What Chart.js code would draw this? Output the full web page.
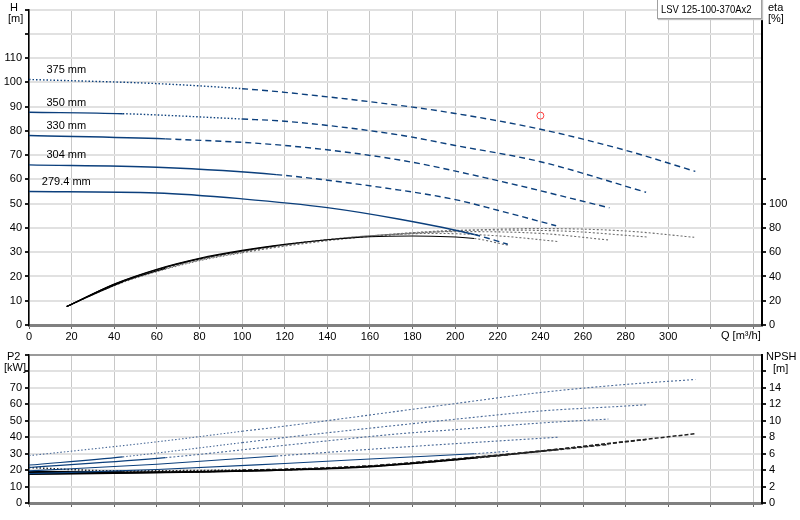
<!DOCTYPE html>
<html>
<head>
<meta charset="utf-8">
<script src="https://cdn.jsdelivr.net/npm/chart.js@4.4.1/dist/chart.umd.min.js"></script>
<style>
  body { margin: 0; background: #fff; font-family: "Liberation Sans", Arial, sans-serif; }
  #wrap { position: relative; width: 800px; height: 520px; overflow: hidden; }
  #wrap canvas { position: absolute; left: 0; }
  .lbl { position: absolute; font-size: 11px; line-height: 12px; color: #000; white-space: nowrap; }
  #tag { position: absolute; left: 657px; top: -1px; width: 105px; height: 20px; box-sizing: border-box;
         border: 1px solid #a0a0a0; box-shadow: 1px 1px 1px #c0c0c0; background: #fff; white-space: nowrap;
         font-size: 11px; line-height: 18px; padding-left: 3px; overflow: hidden; }
  #tag span { display: inline-block; transform: scaleX(0.86); transform-origin: left center; }
</style>
</head>
<body>
<div id="wrap">
  <canvas id="top" width="800" height="345" style="top:0"></canvas>
  <canvas id="bottom" width="800" height="175" style="top:345px"></canvas>
  <div class="lbl" style="left:10px;top:1px">H</div>
  <div class="lbl" style="left:8px;top:12px">[m]</div>
  <div class="lbl" style="left:768px;top:1px">eta</div>
  <div class="lbl" style="left:768px;top:12px">[%]</div>
  <div class="lbl" style="left:721px;top:329px">Q [m³/h]</div>
  <div class="lbl" style="left:7px;top:350px">P2</div>
  <div class="lbl" style="left:4px;top:361px">[kW]</div>
  <div class="lbl" style="left:766px;top:350px">NPSH</div>
  <div class="lbl" style="left:773px;top:362px">[m]</div>
  <div id="tag"><span>LSV 125-100-370Ax2</span></div>
</div>
<script>
// impeller diameters, smallest first
const diameters = ['279.4 mm', '304 mm', '330 mm', '350 mm', '375 mm'];

// head curves H [m] vs Q [m3/h]
const headQ = [
  [0, 60, 100, 140, 174, 209, 224.7],
  [0, 60, 116, 174, 200, 220, 247.4],
  [0, 64, 120, 174, 220, 272.4],
  [0, 44, 100, 120, 174, 200, 240, 289.6],
  [0, 60, 100, 120, 174, 200, 240, 280, 312.7]
];
const headH = [
  [55, 54.4, 52, 48.4, 43.6, 37.3, 33.3],
  [66, 65, 62, 55.6, 51.7, 47.3, 40.9],
  [78.1, 76.7, 74, 68, 59.5, 48.3],
  [87.7, 87.1, 84.9, 84, 78.3, 74, 67.3, 54.7],
  [101.2, 99.5, 97.4, 95.9, 90.5, 87.2, 80.7, 72, 63.3]
];

// efficiency eta [%]
const etaQ = [
  [17.7, 40, 60, 80, 100, 120, 140, 160, 180, 209, 224.7],
  [17.7, 40, 60, 80, 100, 116, 140, 160, 190, 220, 248.5],
  [17.7, 40, 64, 80, 100, 120, 140, 160, 200, 240, 272],
  [17.7, 44, 60, 80, 100, 120, 140, 160, 210, 250, 290.5],
  [17.7, 40, 60, 80, 100, 120, 140, 160, 240, 280, 312.2]
];
const etaVals = [
  [15.2, 33.8, 46, 55, 61.5, 66.5, 70.3, 72.8, 73.4, 71.3, 65.8],
  [15.2, 33.5, 45.5, 54.5, 61, 65.3, 70.5, 73.5, 75.5, 73.5, 68.8],
  [15.2, 33.2, 46.7, 54, 60.5, 66, 70.3, 73.5, 77, 75.5, 70.1],
  [15.2, 35.5, 44.5, 53.5, 60, 65.5, 70, 73.5, 78.3, 77.5, 72.5],
  [15.2, 32.5, 44, 53, 59.5, 65, 69.5, 73, 79.5, 77.5, 72.3]
];

// shaft power P2 [kW]
const powerQ = [
  [0, 60, 120, 174, 209, 224.7],
  [0, 60, 116, 174, 248.5],
  [0, 64, 120, 174, 200, 240, 271.9],
  [0, 44, 100, 120, 174, 200, 240, 280, 289.6],
  [0, 60, 100, 120, 174, 200, 240, 280, 312.7]
];
const powerVals = [
  [17.8, 20.3, 24, 27.6, 29.9, 31.3],
  [19.5, 23.5, 28.5, 33.8, 39.9],
  [21.5, 27.5, 35, 42, 44.5, 48.5, 50.9],
  [23, 28, 36.6, 39.7, 47.3, 50.8, 55.8, 58.8, 59.6],
  [28.7, 37.1, 43.5, 46.6, 55.8, 60.3, 67, 71.9, 74.9]
];

// NPSH [m]
const npshQ = [
  [0, 40, 80, 120, 160, 209, 224.7],
  [0, 40, 80, 116, 160, 200, 248.5],
  [0, 64, 120, 160, 200, 240, 272],
  [0, 44, 100, 120, 160, 200, 240, 289.6],
  [0, 40, 100, 120, 160, 200, 240, 280, 312.7]
];
const npshVals = [
  [3.5, 3.6, 3.75, 4.0, 4.4, 5.45, 5.85],
  [3.6, 3.65, 3.8, 3.98, 4.45, 5.25, 6.5],
  [3.7, 3.75, 4.05, 4.45, 5.3, 6.25, 7.1],
  [3.8, 3.75, 3.95, 4.05, 4.5, 5.3, 6.3, 7.7],
  [4.3, 3.9, 4.0, 4.1, 4.5, 5.35, 6.3, 7.45, 8.4]
];

// duty point
const dutyQ = [240];
const dutyH = [86.3];

// where each curve stops being solid / dotted
const solidTo = [209, 116, 64, 44, 0];
const dottedTo = [209, 116, 64, 100, 100];

Chart.defaults.font.family = '"Liberation Sans", Arial, sans-serif';
Chart.defaults.font.size = 11;
Chart.defaults.color = '#000';

const NAVY = '#0b3f7c';

function curve(qs, vs, i, axis, look) {
  return {
    data: qs.map((q, k) => ({ x: q, y: vs[k] })),
    yAxisID: axis,
    borderColor: look.solid,
    borderWidth: look.width,
    pointRadius: 0,
    cubicInterpolationMode: 'monotone',
    segment: {
      borderDash: c => {
        const q = c.p0.parsed.x;
        if (q < solidTo[i]) return undefined;
        if (q < dottedTo[i]) return [1.5, 2];
        return look.dash;
      },
      borderColor: c => c.p0.parsed.x < solidTo[i] ? look.solid : look.broken
    }
  };
}

function xAxis(labels, h) {
  return {
    type: 'linear', min: 0, max: 344,
    afterFit: s => { s.height = h; },
    ticks: { stepSize: 20, includeBounds: false, autoSkip: false, maxRotation: 0, padding: 1,
             callback: v => (labels && v <= 300) ? v : '' },
    grid: { color: '#c8c8c8', lineWidth: 1, tickLength: 4, tickColor: '#666' },
    border: { color: '#808080', width: 3 }
  };
}

function yAxis(pos, min, max, step, lastLabel, onArea, topColor) {
  return {
    position: pos, min: min, max: max,
    afterFit: s => { s.width = pos === 'left' ? 29 : 38; },
    ticks: { stepSize: step, autoSkip: false, padding: 3,
             callback: v => v <= lastLabel ? v : '' },
    grid: {
      drawOnChartArea: onArea,
      color: c => (topColor && c.tick.value === max) ? topColor : '#e1e1e1',
      lineWidth: 2, tickLength: 4,
      tickColor: c => (pos === 'right' && c.tick.value > lastLabel + step * 1.5) ? 'rgba(0,0,0,0)' : '#222'
    },
    border: { color: '#000', width: pos === 'left' ? 1.5 : 2 }
  };
}

// diameter names written above the start of each head curve
const diameterLabels = {
  id: 'diameterLabels',
  afterDatasetsDraw(chart) {
    const ctx = chart.ctx;
    ctx.save();
    ctx.font = '11px "Liberation Sans", Arial, sans-serif';
    ctx.fillStyle = '#000';
    ctx.textAlign = 'center';
    ctx.textBaseline = 'bottom';
    const xs = chart.scales.x, ys = chart.scales.y;
    diameters.forEach((d, i) => {
      ctx.fillText(d, xs.getPixelForValue(17.5), ys.getPixelForValue(headH[i][0]) - 4);
    });
    ctx.restore();
  }
};

const headLook = { solid: NAVY, broken: NAVY, width: 1.4, dash: [6, 4] };
const etaLook = { solid: '#000', broken: '#6e6e6e', width: 1.1, dash: [2, 2] };
const powerLook = { solid: NAVY, broken: '#4a6a98', width: 1.1, dash: [2, 2] };
const npshLook = { solid: '#000', broken: '#222', width: 1.5, dash: [4, 2] };

const topSets = [];
diameters.forEach((d, i) => topSets.push(curve(headQ[i], headH[i], i, 'y', headLook)));
diameters.forEach((d, i) => topSets.push(curve(etaQ[i], etaVals[i], i, 'eta', etaLook)));
topSets.push({
  data: dutyQ.map((q, k) => ({ x: q, y: dutyH[k] })),
  yAxisID: 'y', showLine: false, pointRadius: 3.5, pointStyle: 'circle',
  pointBorderColor: '#ff4040', pointBackgroundColor: 'rgba(0,0,0,0)', pointBorderWidth: 1
});

new Chart(document.getElementById('top'), {
  type: 'line',
  data: { datasets: topSets },
  options: {
    responsive: false, animation: false, devicePixelRatio: 1,
    layout: { padding: 0 },
    plugins: { legend: { display: false }, tooltip: { enabled: false } },
    scales: {
      x: xAxis(true, 20),
      y: yAxis('left', 0, 130, 10, 110, true, null),
      eta: yAxis('right', 0, 260, 20, 100, false, null)
    }
  },
  plugins: [diameterLabels]
});

const bottomSets = [];
diameters.forEach((d, i) => bottomSets.push(curve(powerQ[i], powerVals[i], i, 'p2', powerLook)));
diameters.forEach((d, i) => bottomSets.push(curve(npshQ[i], npshVals[i], i, 'npsh', npshLook)));

new Chart(document.getElementById('bottom'), {
  type: 'line',
  data: { datasets: bottomSets },
  options: {
    responsive: false, animation: false, devicePixelRatio: 1,
    layout: { padding: { top: 5 } },
    plugins: { legend: { display: false }, tooltip: { enabled: false } },
    scales: {
      x: xAxis(false, 17),
      p2: yAxis('left', 0, 90, 10, 70, true, '#9a9a9a'),
      npsh: yAxis('right', 0, 18, 2, 14, false, null)
    }
  }
});
</script>
</body>
</html>
